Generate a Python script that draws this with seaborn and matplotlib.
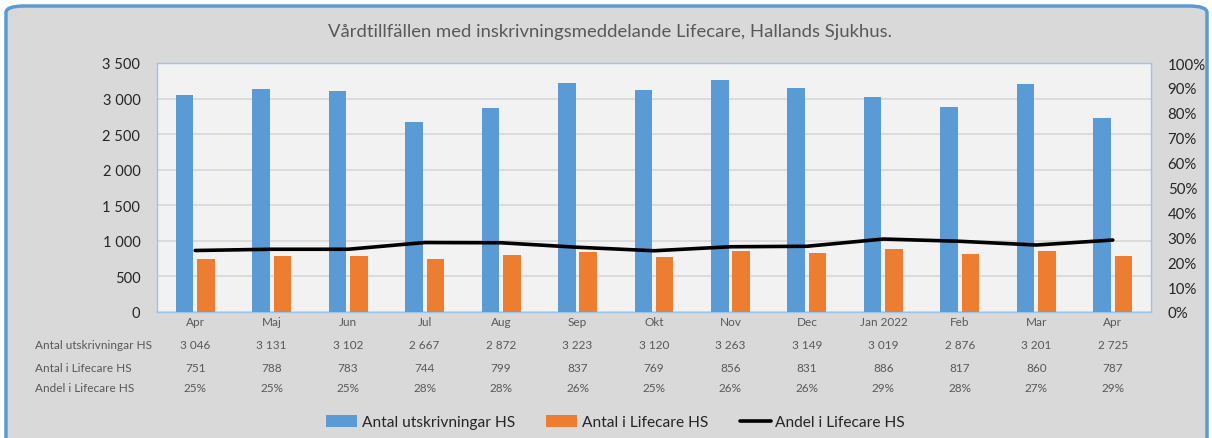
import matplotlib
matplotlib.use("Agg")
import matplotlib.pyplot as plt
from matplotlib.patches import FancyBboxPatch
from matplotlib.lines import Line2D
from matplotlib.ticker import FuncFormatter, MultipleLocator
import numpy as np
import pandas as pd
import seaborn as sns

# data
months = ["Apr", "Maj", "Jun", "Jul", "Aug", "Sep", "Okt", "Nov", "Dec",
          "Jan 2022", "Feb", "Mar", "Apr"]
periods = ["2021-04", "2021-05", "2021-06", "2021-07", "2021-08", "2021-09",
           "2021-10", "2021-11", "2021-12", "2022-01", "2022-02", "2022-03", "2022-04"]
utskrivningar = [3046, 3131, 3102, 2667, 2872, 3223, 3120, 3263, 3149, 3019, 2876, 3201, 2725]
lifecare = [751, 788, 783, 744, 799, 837, 769, 856, 831, 886, 817, 860, 787]
andel = [0.247, 0.252, 0.252, 0.279, 0.278, 0.260, 0.246, 0.262, 0.264, 0.293, 0.284, 0.269, 0.289]
andel_txt = ["25%", "25%", "25%", "28%", "28%", "26%", "25%", "26%", "26%", "29%", "28%", "27%", "29%"]

title = "Vårdtillfällen med inskrivningsmeddelande Lifecare, Hallands Sjukhus."
serie_names = ["Antal utskrivningar HS", "Antal i Lifecare HS", "Andel i Lifecare HS"]

blue = "#5b9bd5"
orange = "#ed7d31"
grey_txt = "#595959"

sns.set_style("white")
plt.rcParams["font.family"] = ["Lato", "DejaVu Sans"]

df = pd.DataFrame({
    "period": periods * 2,
    "value": utskrivningar + lifecare,
    "serie": [serie_names[0]] * len(periods) + [serie_names[1]] * len(periods),
})

W, H = 1212, 439
fig = plt.figure(figsize=(W / 100, H / 100), dpi=100)
fig.patch.set_facecolor("white")

# outer grey rounded box
box = FancyBboxPatch((6 / W, -20 / H), 1201 / W, 452 / H,
                     boxstyle="round,pad=0,rounding_size=0.015",
                     transform=fig.transFigure, facecolor="#d9d9d9",
                     edgecolor=blue, linewidth=2.5, zorder=-5)
fig.patches.append(box)

ax = fig.add_axes([157 / W, 1 - 313 / H, 994 / W, 249 / H])
ax.set_facecolor("#f2f2f2")
sns.barplot(data=df, x="period", y="value", hue="serie", order=periods,
            palette=[blue, orange], saturation=1, width=0.56, gap=0.18,
            errorbar=None, ax=ax, zorder=3, edgecolor="none")
ax.set_ylim(0, 3500)
ax.set_xlim(-0.5, len(periods) - 0.5)
ax.yaxis.set_major_locator(MultipleLocator(500))
ax.yaxis.set_major_formatter(FuncFormatter(lambda v, p: f"{int(v):,}".replace(",", " ")))
ax.xaxis.grid(False)
ax.yaxis.grid(True, color="#d9d9d9", linewidth=1.3, zorder=0)
ax.set_axisbelow(True)
ax.set_xlabel("")
ax.set_ylabel("")
ax.set_xticks(range(len(months)))
ax.set_xticklabels(months, color=grey_txt, fontsize=8.5)
ax.tick_params(axis="x", length=0, pad=3)
ax.tick_params(axis="y", labelsize=10.5, length=0, pad=12)
for s in ax.spines.values():
    s.set_color("#9dc3e6")
    s.set_linewidth(1)
ax.get_legend().remove()

ax2 = ax.twinx()
sns.lineplot(x=np.arange(len(andel)), y=andel, ax=ax2, color="black",
             linewidth=2.6, errorbar=None, zorder=4)
ax2.grid(False)
ax2.set_ylim(0, 1)
ax2.yaxis.set_major_locator(MultipleLocator(0.1))
ax2.yaxis.set_major_formatter(FuncFormatter(lambda v, p: f"{v * 100:.0f}%"))
ax2.tick_params(axis="y", labelsize=10.8, length=0, pad=12)
for s in ax2.spines.values():
    s.set_visible(False)

# data table under the chart
row_y = [-0.1325, -0.221, -0.305]
rows = [[f"{v:,}".replace(",", " ") for v in utskrivningar],
        [str(v) for v in lifecare],
        andel_txt]
trans = ax.get_xaxis_transform()
for name, vals, y in zip(serie_names, rows, row_y):
    fig.text(35 / W, 1 - (313 - y * 249) / H, name, ha="left", va="center",
             fontsize=8.5, color=grey_txt)
    for i, v in enumerate(vals):
        ax.text(i, y, v, transform=trans, ha="center", va="center",
                fontsize=8.5, color=grey_txt)

fig.text(0.503, 1 - 32 / H, title, ha="center", va="center",
         fontsize=13.3, color=grey_txt)

h1, l1 = ax.get_legend_handles_labels()
handles = list(h1) + [Line2D([], [], color="black", linewidth=2.6)]
fig.legend(handles, serie_names, loc="center", bbox_to_anchor=(0.508, 1 - 423 / H),
           ncol=3, frameon=False, fontsize=11.2, handlelength=2.0, handleheight=0.8,
           handletextpad=0.3, columnspacing=2.0)

fig.savefig("out.png", dpi=100)
